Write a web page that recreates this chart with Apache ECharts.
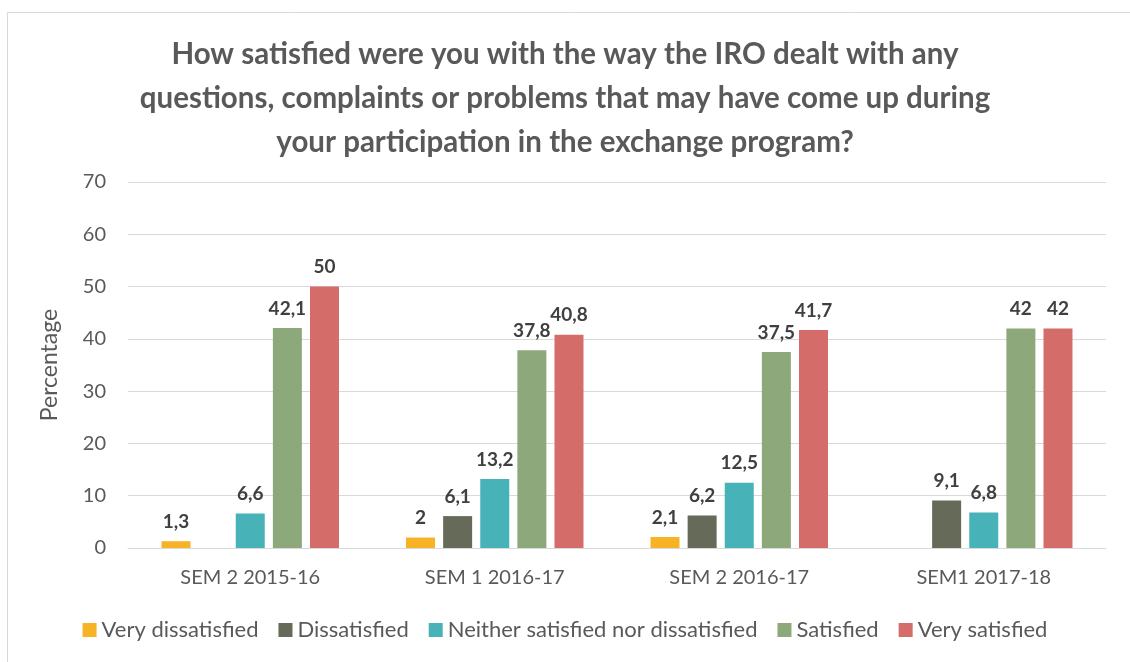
<!DOCTYPE html>
<html>
<head>
<meta charset="utf-8">
<script src="https://cdn.jsdelivr.net/npm/echarts@6/dist/echarts.min.js"></script>
<style>
    html, body { margin: 0; padding: 0; background: #fff; }
    #cn { width: 1130px; height: 662px; }
</style>
</head>
<body>
<div id="cn"></div>
<script>
'use strict';

const arrCategory = ['SEM 2 2015-16', 'SEM 1 2016-17', 'SEM 2 2016-17', 'SEM1 2017-18'];
const arrName = ['Very dissatisfied', 'Dissatisfied', 'Neither satisfied nor dissatisfied', 'Satisfied', 'Very satisfied'];
const arrVeryDis = [1.3, 2, 2.1, null];
const arrDis = [null, 6.1, 6.2, 9.1];
const arrNeither = [6.6, 13.2, 12.5, 6.8];
const arrSat = [42.1, 37.8, 37.5, 42];
const arrVerySat = [50, 40.8, 41.7, 42];
const arrColor = ['#F8B226', '#656B58', '#47B2B7', '#8DA97B', '#D46D69'];

const strFont = 'Lato, "Open Sans", sans-serif';

const chart = echarts.init(document.getElementById('cn'));

const makeSeries = (name, data, i) => ({
    name: name,
    type: 'bar',
    data: data,
    barWidth: 29,
    barGap: '28%',
    itemStyle: {
        color: arrColor[i]
    },
    label: {
        show: true,
        position: 'top',
        distance: 10,
        fontFamily: strFont,
        fontWeight: 'bold',
        fontSize: 19,
        color: '#404040',
        formatter: (p) => String(p.value).replace('.', ',') //小数点はカンマ
    }
});

const option = {
    animation: false,
    title: {
        text: 'How satisfied were you with the way the IRO dealt with any\nquestions, complaints or problems that may have come up during\nyour participation in the exchange program?',
        left: 'center',
        top: 27,
        textStyle: {
            fontFamily: strFont,
            fontWeight: 'bold',
            fontSize: 29.5,
            lineHeight: 44,
            color: '#595959'
        }
    },
    graphic: [{
        type: 'rect',
        shape: { x: 7.5, y: 12.5, width: 1140, height: 700 },
        style: { fill: 'none', stroke: '#d9d9d9', lineWidth: 1 },
        silent: true
    }],
    grid: {
        left: 128,
        right: 24,
        top: 182,
        bottom: 114
    },
    legend: {
        data: arrName,
        bottom: 16,
        left: 'center',
        itemWidth: 14,
        itemHeight: 14,
        itemGap: 20,
        icon: 'rect',
        textStyle: {
            fontFamily: strFont,
            fontSize: 22,
            color: '#595959'
        }
    },
    xAxis: {
        type: 'category',
        data: arrCategory,
        axisLine: { lineStyle: { color: '#d9d9d9', width: 1 } },
        axisTick: { show: false },
        axisLabel: {
            fontFamily: strFont,
            fontSize: 20,
            color: '#595959',
            margin: 20
        }
    },
    yAxis: {
        type: 'value',
        min: 0,
        max: 70,
        interval: 10,
        name: 'Percentage',
        nameLocation: 'middle',
        nameGap: 67,
        nameTextStyle: {
            fontFamily: strFont,
            fontSize: 23,
            color: '#595959'
        },
        axisLine: { show: false },
        axisTick: { show: false },
        splitLine: { lineStyle: { color: '#d9d9d9', width: 1 } },
        axisLabel: {
            fontFamily: strFont,
            fontSize: 20,
            color: '#595959',
            margin: 22
        }
    },
    series: [
        makeSeries(arrName[0], arrVeryDis, 0),
        makeSeries(arrName[1], arrDis, 1),
        makeSeries(arrName[2], arrNeither, 2),
        makeSeries(arrName[3], arrSat, 3),
        makeSeries(arrName[4], arrVerySat, 4)
    ]
};

chart.setOption(option);
</script>
</body>
</html>
